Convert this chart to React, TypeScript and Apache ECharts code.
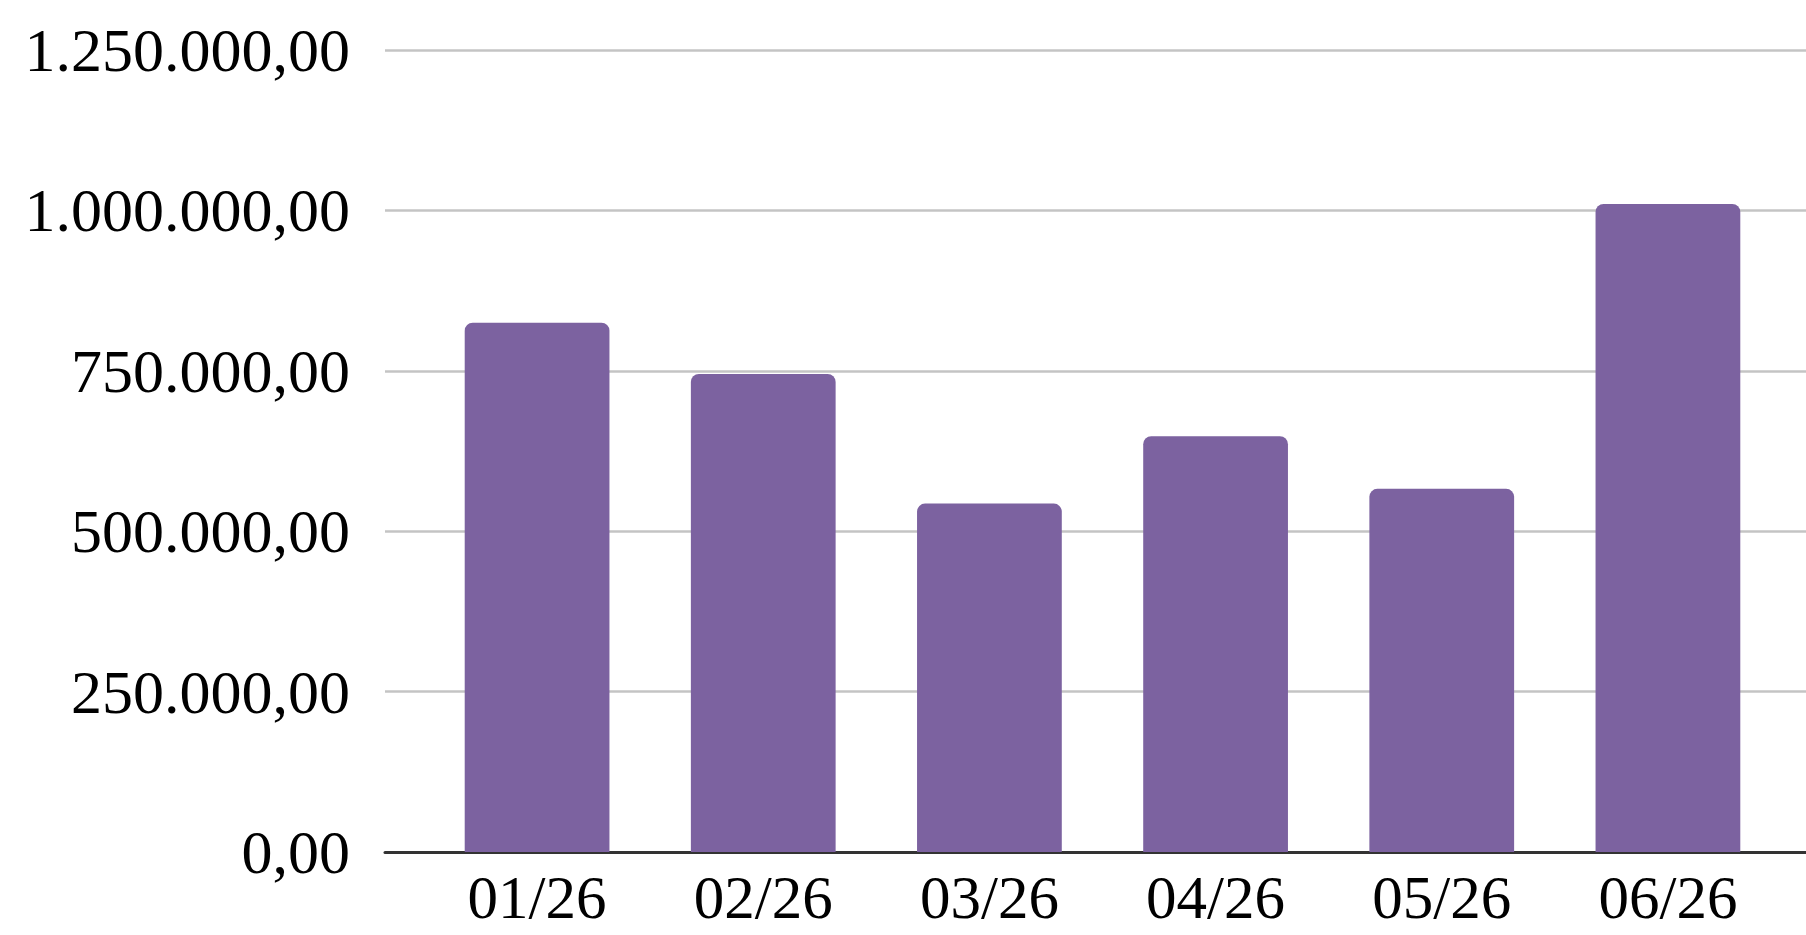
import React, { useEffect, useRef } from "react";
import * as echarts from "echarts";

const categories: string[] = ["01/26", "02/26", "03/26", "04/26", "05/26", "06/26"];
const values: number[] = [825000, 745000, 543000, 648000, 566000, 1010000];
const yMin = 0;
const yMax = 1250000;
const yInterval = 250000;

function formatBR(v: number): string {
  const fixed = v.toFixed(2);
  const [intPart, dec] = fixed.split(".");
  const withDots = intPart.replace(/\B(?=(\d{3})+(?!\d))/g, ".");
  return withDots + "," + dec;
}

export default function App() {
  const ref = useRef<HTMLDivElement>(null);
  useEffect(() => {
    if (!ref.current) return;
    const chart = echarts.init(ref.current, null, { renderer: "svg" });
    const font = "'Liberation Serif', 'Times New Roman', serif";
    chart.setOption({
      animation: false,
      backgroundColor: "#ffffff",
      grid: [
        { left: 385, right: 0, top: 50, bottom: 83, containLabel: false },
        { left: 424, right: 25, top: 50, bottom: 83, containLabel: false },
      ],
      xAxis: [
        {
          type: "category",
          gridIndex: 0,
          data: categories,
          axisLine: { show: true, lineStyle: { color: "#333333", width: 3 } },
          axisTick: { show: false },
          axisLabel: { show: false },
          splitLine: { show: false },
        },
        {
          type: "category",
          gridIndex: 1,
          data: categories,
          axisLine: { show: false },
          axisTick: { show: false },
          axisLabel: {
            show: true,
            color: "#000000",
            fontFamily: font,
            fontSize: 61,
            margin: 15,
            interval: 0,
          },
          splitLine: { show: false },
        },
      ],
      yAxis: [
        {
          type: "value",
          gridIndex: 0,
          min: yMin,
          max: yMax,
          interval: yInterval,
          axisLine: { show: false },
          axisTick: { show: false },
          axisLabel: {
            show: true,
            color: "#000000",
            fontFamily: font,
            fontSize: 62,
            margin: 35,
            formatter: (v: number) => formatBR(v),
          },
          splitLine: { show: true, lineStyle: { color: "#c4c4c4", width: 2.5 } },
        },
        {
          type: "value",
          gridIndex: 1,
          min: yMin,
          max: yMax,
          interval: yInterval,
          show: false,
          splitLine: { show: false },
        },
      ],
      series: [
        {
          type: "bar",
          xAxisIndex: 1,
          yAxisIndex: 1,
          data: values,
          barCategoryGap: "36%",
          itemStyle: { color: "#7c62a0", borderRadius: [8, 8, 0, 0] },
          z: 5,
        },
      ],
    });
    return () => chart.dispose();
  }, []);
  return (
    <div
      ref={ref}
      style={{ position: "absolute", left: 0, top: 0, width: 1806, height: 935 }}
    />
  );
}
